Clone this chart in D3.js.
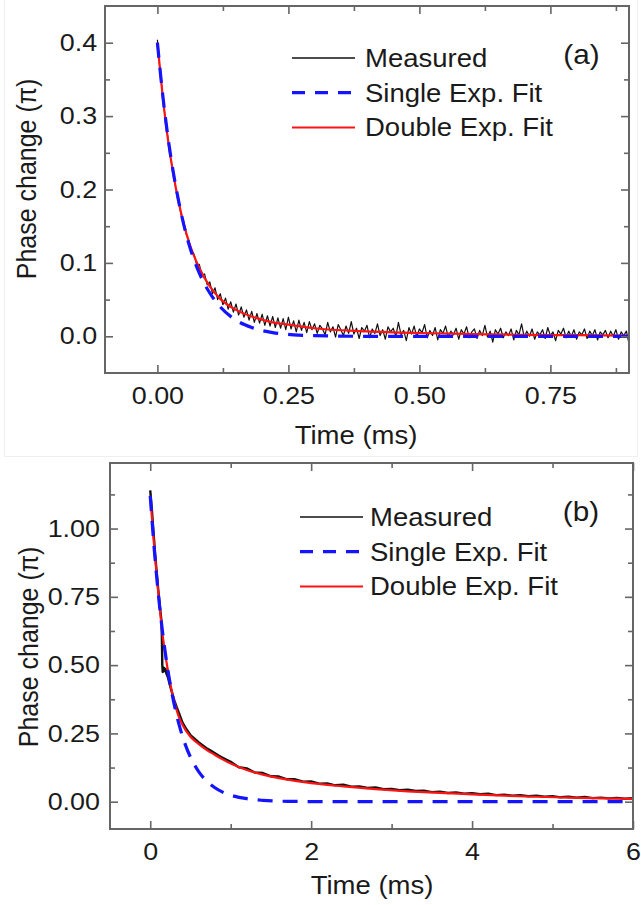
<!DOCTYPE html>
<html>
<head>
<meta charset="utf-8">
<script src="https://cdn.jsdelivr.net/npm/d3@7/dist/d3.min.js"></script>
<style>
  body { margin: 0; background: #fff; }
  svg { display: block; }
  text { font-family: "Liberation Sans", Arial, sans-serif; fill: #1a1a1a; }
</style>
</head>
<body>
<svg width="641" height="905"></svg>
<script>
// ---- panel (a) data, time in ms, phase in units of pi ----
var measuredStepA = 0.005;
var measuredA = [
  0.404, 0.361, 0.330, 0.296, 0.271, 0.243, 0.225, 0.201, 0.187, 0.166,
  0.157, 0.139, 0.131, 0.115, 0.112, 0.097, 0.098, 0.083, 0.085, 0.070,
  0.074, 0.058, 0.066, 0.050, 0.058, 0.043, 0.052, 0.037, 0.047, 0.033,
  0.044, 0.029, 0.040, 0.026, 0.036, 0.022, 0.034, 0.019, 0.031, 0.018,
  0.030, 0.015, 0.028, 0.014, 0.027, 0.012, 0.025, 0.011, 0.024, 0.009,
  0.026, 0.010, 0.021, 0.006, 0.022, 0.008, 0.019, 0.005, 0.020, 0.009,
  0.017,
  0.004, 0.015, 0.010, 0.002, 0.019, 0.006, 0.013, -0.001, 0.016, 0.009,
  0.001, 0.014, 0.004, 0.020, 0.003, 0.011, -0.003, 0.012, 0.007, 0.015,
  -0.002, 0.010, 0.004, 0.017, 0.001, 0.009, -0.004, 0.013, 0.006, 0.011,
  0.000, 0.019, 0.002, 0.008, -0.006, 0.012, 0.003, 0.014, -0.001, 0.010,
  0.005, 0.016, -0.002, 0.008, 0.001, 0.012, -0.005, 0.009, 0.004, 0.014,
  -0.001, 0.007, 0.002, 0.011, -0.004, 0.009, 0.003, 0.013, -0.002, 0.006,
  0.010, -0.003, 0.008, 0.001, 0.015, -0.001, 0.007, -0.008, 0.009, 0.003,
  0.011, -0.002, 0.006, 0.001, 0.010, -0.005, 0.008, 0.002, 0.017, -0.001,
  0.007, 0.000, 0.010, -0.004, 0.006, 0.002, 0.009, -0.003, 0.012, 0.001,
  0.006, -0.006, 0.008, 0.003, 0.011, -0.002, 0.007, 0.000, 0.009, -0.004,
  0.006, 0.002, 0.010, -0.003, 0.007, 0.001, 0.009, -0.005, 0.006, 0.002,
  0.008, -0.002, 0.007, 0.000, 0.009, -0.004, 0.006, 0.001, 0.007, -0.010
];
var fitTimeA = [0, 0.01, 0.02, 0.03, 0.04, 0.05, 0.06, 0.08, 0.10, 0.12, 0.15, 0.18, 0.22, 0.26, 0.30, 0.40, 0.50, 0.60, 0.70, 0.80, 0.90];
var singleA = [0.400, 0.330, 0.272, 0.225, 0.186, 0.153, 0.126, 0.086, 0.059, 0.040, 0.022, 0.012, 0.005, 0.002, 0.001, 0, 0, 0, 0, 0, 0];
var doubleA = [0.400, 0.328, 0.269, 0.223, 0.185, 0.154, 0.129, 0.093, 0.068, 0.051, 0.036, 0.027, 0.019, 0.015, 0.011, 0.0068, 0.0045, 0.003, 0.002, 0.0015, 0.001];
var xTicksA = [0, 0.25, 0.5, 0.75];
var xMinorA = [0.125, 0.375, 0.625, 0.875];
var yTicksA = [0, 0.1, 0.2, 0.3, 0.4];
var yMinorA = [0.05, 0.15, 0.25, 0.35];

// ---- panel (b) data ----
var measuredTimeB = [0, 0.02, 0.04, 0.06, 0.08, 0.10, 0.12, 0.14, 0.145, 0.15, 0.155, 0.16, 0.17, 0.18, 0.19, 0.20,
  0.22, 0.24, 0.26, 0.28, 0.30, 0.33, 0.36, 0.40, 0.45, 0.50, 0.55, 0.60, 0.65, 0.70, 0.75, 0.80, 0.85, 0.90, 0.95,
  1.0, 1.1, 1.2, 1.3, 1.4, 1.5, 1.6, 1.7, 1.8, 1.9, 2.0, 2.1, 2.2, 2.3, 2.4, 2.5, 2.6, 2.7, 2.8, 2.9,
  3.0, 3.1, 3.2, 3.3, 3.4, 3.5, 3.6, 3.7, 3.8, 3.9, 4.0, 4.1, 4.2, 4.3, 4.4, 4.5, 4.6, 4.7, 4.8, 4.9,
  5.0, 5.1, 5.2, 5.3, 5.4, 5.5, 5.6, 5.7, 5.8, 5.9, 6.0];
var measuredB = [1.14, 1.07, 0.99, 0.91, 0.84, 0.775, 0.715, 0.66, 0.60, 0.50, 0.475, 0.482, 0.49, 0.478, 0.486, 0.47,
  0.455, 0.432, 0.41, 0.39, 0.37, 0.345, 0.322, 0.29, 0.265, 0.244, 0.231, 0.218, 0.207, 0.196, 0.187, 0.178, 0.169, 0.161, 0.153,
  0.146, 0.126, 0.122, 0.107, 0.105, 0.093, 0.092, 0.082, 0.082, 0.073, 0.074, 0.066, 0.067, 0.060, 0.062, 0.055, 0.056, 0.050, 0.052, 0.046,
  0.047, 0.042, 0.044, 0.039, 0.040, 0.035, 0.037, 0.032, 0.034, 0.029, 0.031, 0.027, 0.029, 0.024, 0.026, 0.022, 0.024, 0.020, 0.022, 0.018,
  0.020, 0.016, 0.018, 0.015, 0.017, 0.013, 0.015, 0.012, 0.014, 0.011, 0.013];
var fitTimeB = [0, 0.05, 0.1, 0.15, 0.2, 0.25, 0.3, 0.35, 0.4, 0.5, 0.6, 0.7, 0.8, 0.9, 1.0, 1.2, 1.4, 1.6, 1.8, 2.0, 2.4, 2.8, 3.2, 3.6, 4.0, 4.4, 4.8, 5.2, 5.6, 6.0];
var singleB = [1.12, 0.924, 0.762, 0.629, 0.519, 0.428, 0.353, 0.291, 0.240, 0.163, 0.111, 0.076, 0.052, 0.035, 0.024, 0.011, 0.005, 0.002, 0.001, 0.0005, 0, 0, 0, 0, 0, 0, 0, 0, 0, 0];
var doubleB = [1.12, 0.93, 0.765, 0.62, 0.515, 0.43, 0.365, 0.315, 0.282, 0.238, 0.212, 0.190, 0.172, 0.155, 0.140, 0.116, 0.099, 0.086, 0.076, 0.068, 0.056, 0.046, 0.038, 0.032, 0.027, 0.022, 0.018, 0.015, 0.012, 0.010];
var xTicksB = [0, 2, 4, 6];
var xMinorB = [1, 3, 5];
var yTicksB = [0, 0.25, 0.5, 0.75, 1.0];
var yMinorB = [0.125, 0.375, 0.625, 0.875, 1.125];

var legendLabels = ['Measured', 'Single Exp. Fit', 'Double Exp. Fit'];

var svg = d3.select('svg');
// the original scan is a bit wider than tall, so text gets squeezed out a little
var stretch = 'scale(1.1,1)';
var frameColor = '#666';

function drawPanel(p) {
  var x = d3.scaleLinear().domain(p.xDomain).range([p.left, p.right]);
  var y = d3.scaleLinear().domain(p.yDomain).range([p.bottom, p.top]);
  var g = svg.append('g');

  g.append('clipPath').attr('id', 'clip-' + p.name)
    .append('rect')
    .attr('x', p.left).attr('y', p.top)
    .attr('width', p.right - p.left).attr('height', p.bottom - p.top);
  var plot = g.append('g').attr('clip-path', 'url(#clip-' + p.name + ')');

  var raw = d3.line().x(function(d) { return x(d[0]); }).y(function(d) { return y(d[1]); });
  var smooth = d3.line().curve(d3.curveMonotoneX).x(function(d) { return x(d[0]); }).y(function(d) { return y(d[1]); });

  // measured trace first, fits on top of it
  plot.append('path').datum(d3.zip(p.measuredT, p.measured))
    .attr('fill', 'none').attr('stroke', '#111').attr('stroke-width', p.measuredWidth)
    .attr('stroke-linejoin', 'round').attr('d', raw);
  plot.append('path').datum(d3.zip(p.fitT, p.double))
    .attr('fill', 'none').attr('stroke', '#ff1414').attr('stroke-width', 2.2).attr('d', smooth);
  plot.append('path').datum(d3.zip(p.fitT, p.single))
    .attr('fill', 'none').attr('stroke', '#1414ff').attr('stroke-width', 3.2)
    .attr('stroke-dasharray', '15,10').attr('d', smooth);

  // ticks on all four sides, pointing inwards
  var axes = g.append('g');
  axes.append('g').attr('transform', 'translate(0,' + p.bottom + ')')
    .call(d3.axisBottom(x).tickValues(p.xTicks).tickFormat(d3.format(p.xFmt))
      .tickSizeInner(-8).tickSizeOuter(0).tickPadding(p.xPad));
  axes.append('g').attr('transform', 'translate(0,' + p.bottom + ')')
    .call(d3.axisBottom(x).tickValues(p.xMinor).tickFormat('').tickSizeInner(-5).tickSizeOuter(0));
  axes.append('g').attr('transform', 'translate(0,' + p.top + ')')
    .call(d3.axisTop(x).tickValues(p.xTicks).tickFormat('').tickSizeInner(-8).tickSizeOuter(0));
  axes.append('g').attr('transform', 'translate(0,' + p.top + ')')
    .call(d3.axisTop(x).tickValues(p.xMinor).tickFormat('').tickSizeInner(-5).tickSizeOuter(0));
  axes.append('g').attr('transform', 'translate(' + p.left + ',0)')
    .call(d3.axisLeft(y).tickValues(p.yTicks).tickFormat(d3.format(p.yFmt))
      .tickSizeInner(-8).tickSizeOuter(0).tickPadding(p.yPad));
  axes.append('g').attr('transform', 'translate(' + p.left + ',0)')
    .call(d3.axisLeft(y).tickValues(p.yMinor).tickFormat('').tickSizeInner(-5).tickSizeOuter(0));
  axes.append('g').attr('transform', 'translate(' + p.right + ',0)')
    .call(d3.axisRight(y).tickValues(p.yTicks).tickFormat('').tickSizeInner(-8).tickSizeOuter(0));
  axes.append('g').attr('transform', 'translate(' + p.right + ',0)')
    .call(d3.axisRight(y).tickValues(p.yMinor).tickFormat('').tickSizeInner(-5).tickSizeOuter(0));

  axes.selectAll('.domain').remove();
  axes.selectAll('.tick line').attr('stroke', frameColor).attr('stroke-width', 1.6);
  axes.selectAll('.tick text').attr('font-size', 24).attr('transform', 'scale(1.12,1)');

  g.append('rect')
    .attr('x', p.left).attr('y', p.top)
    .attr('width', p.right - p.left).attr('height', p.bottom - p.top)
    .attr('fill', 'none').attr('stroke', frameColor).attr('stroke-width', 2);

  // axis titles
  g.append('text').attr('text-anchor', 'middle').attr('font-size', 25)
    .attr('transform', 'translate(' + p.xTitle[0] + ',' + p.xTitle[1] + ') ' + stretch)
    .text('Time (ms)');
  g.append('text').attr('text-anchor', 'middle').attr('font-size', 25)
    .attr('transform', 'translate(' + p.yTitle[0] + ',' + p.yTitle[1] + ') ' + stretch + ' rotate(-90)')
    .text('Phase change (\u03c0)');

  // legend
  var styles = [
    { color: '#111', width: 1.3, dash: null },
    { color: '#1414ff', width: 3.2, dash: '13,10' },
    { color: '#ff1414', width: 2 }
  ];
  legendLabels.forEach(function(label, i) {
    var ly = p.legendY + i * 34.7;
    g.append('line')
      .attr('x1', p.legendX[0]).attr('x2', p.legendX[1])
      .attr('y1', ly).attr('y2', ly)
      .attr('stroke', styles[i].color).attr('stroke-width', styles[i].width)
      .attr('stroke-dasharray', styles[i].dash);
    g.append('text').attr('font-size', 25)
      .attr('transform', 'translate(' + p.legendX[2] + ',' + (ly + 9) + ') ' + stretch)
      .text(label);
  });

  g.append('text').attr('text-anchor', 'middle').attr('font-size', 27)
    .attr('transform', 'translate(' + p.tag[0] + ',' + p.tag[1] + ') ' + stretch)
    .text(p.tagText);
}

// faint edge of the pasted upper figure
svg.append('path').attr('d', 'M4.5,0V456.5H637.5V0')
  .attr('fill', 'none').attr('stroke', '#efefef').attr('stroke-width', 1);

drawPanel({
  name: 'a', left: 105, right: 629, top: 6, bottom: 373,
  xDomain: [-0.1, 0.9], yDomain: [-0.05, 0.45],
  xTicks: xTicksA, xMinor: xMinorA, yTicks: yTicksA, yMinor: yMinorA,
  xFmt: '.2f', yFmt: '.1f', xPad: 14, yPad: 7,
  measuredT: measuredA.map(function(v, i) { return i * measuredStepA; }),
  measured: measuredA, measuredWidth: 1.2,
  fitT: fitTimeA, single: singleA, double: doubleA,
  xTitle: [356, 444], yTitle: [35.5, 179],
  legendX: [292, 355, 365], legendY: 58,
  tag: [581.5, 63.5], tagText: '(a)'
});

drawPanel({
  name: 'b', left: 110, right: 633, top: 463, bottom: 829,
  xDomain: [-0.5, 6], yDomain: [-0.1, 1.24],
  xTicks: xTicksB, xMinor: xMinorB, yTicks: yTicksB, yMinor: yMinorB,
  xFmt: 'd', yFmt: '.2f', xPad: 14, yPad: 9,
  measuredT: measuredTimeB, measured: measuredB, measuredWidth: 2.4,
  fitT: fitTimeB, single: singleB, double: doubleB,
  xTitle: [372, 894], yTitle: [37.5, 647],
  legendX: [300, 363, 370], legendY: 517,
  tag: [581, 521], tagText: '(b)'
});
</script>
</body>
</html>
